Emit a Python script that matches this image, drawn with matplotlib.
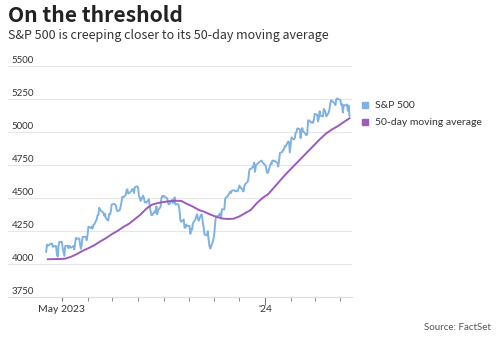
import pandas as pd
import matplotlib.pyplot as plt
from matplotlib.lines import Line2D

plt.rcParams['font.family'] = ['Lato', 'DejaVu Sans']

# S&P 500 daily closes, 12 Apr 2023 - 12 Apr 2024
sp500 = [
    # Apr 2023
    4092, 4146, 4138, 4151, 4154, 4155, 4130, 4133, 4137, 4072, 4056, 4136, 4169,
    # May
    4167, 4119, 4091, 4061, 4136, 4138, 4119, 4138, 4131, 4124, 4136, 4110,
    4159, 4198, 4192, 4193, 4146, 4115, 4151, 4205, 4206, 4180,
    # Jun
    4221, 4282, 4273, 4283, 4268, 4294, 4299, 4338, 4369, 4373, 4426, 4410,
    4389, 4366, 4381, 4348, 4328, 4378, 4377, 4396, 4450,
    # Jul
    4456, 4446, 4412, 4399, 4410, 4439, 4472, 4510, 4505, 4522, 4555, 4566,
    4535, 4536, 4554, 4567, 4566, 4538, 4582, 4589,
    # Aug
    4577, 4513, 4502, 4478, 4518, 4499, 4468, 4469, 4464, 4490, 4437, 4404,
    4370, 4370, 4400, 4388, 4436, 4376, 4406, 4433, 4497, 4515, 4508,
    # Sep
    4516, 4497, 4465, 4451, 4457, 4487, 4462, 4468, 4505, 4450, 4454, 4444,
    4402, 4330, 4320, 4337, 4274, 4275, 4300, 4288,
    # Oct
    4288, 4229, 4263, 4258, 4308, 4336, 4358, 4377, 4349, 4328, 4374, 4373,
    4315, 4278, 4224, 4217, 4248, 4186, 4137, 4117, 4167, 4194,
    # Nov
    4238, 4318, 4358, 4366, 4378, 4383, 4347, 4415, 4412, 4496, 4502, 4509,
    4514, 4547, 4538, 4556, 4559, 4550, 4555, 4551, 4568,
    # Dec
    4595, 4569, 4567, 4549, 4586, 4604, 4622, 4644, 4707, 4720, 4719, 4740,
    4768, 4698, 4746, 4755, 4775, 4781, 4783, 4770,
    # Jan 2024
    4743, 4705, 4689, 4697, 4764, 4757, 4783, 4780, 4784, 4766, 4739, 4780,
    4840, 4850, 4865, 4869, 4894, 4891, 4928, 4925, 4846,
    # Feb
    4906, 4959, 4943, 4954, 4995, 4998, 5027, 5022, 4953, 5001, 5030, 5006,
    4976, 4982, 5087, 5089, 5070, 5078, 5069, 5096,
    # Mar
    5137, 5131, 5079, 5105, 5157, 5124, 5117, 5175, 5165, 5150, 5117, 5149,
    5179, 5225, 5241, 5234, 5218, 5204, 5248, 5254,
    # Apr
    5243, 5205, 5211, 5147, 5204, 5202, 5209, 5161, 5200, 5123,
]

market_holidays = ['2023-05-29', '2023-06-19', '2023-07-04', '2023-09-04',
                   '2023-11-23', '2023-12-25', '2024-01-01', '2024-01-15',
                   '2024-02-19', '2024-03-29']

# 50-day moving average, weekly (Fridays)
ma_dates = pd.date_range('2023-04-14', '2024-04-12', freq='W-FRI')
ma50 = [4036, 4037, 4038, 4040, 4055, 4075, 4100, 4120, 4142, 4170, 4195,
        4225, 4250, 4280, 4305, 4340, 4375, 4420, 4450, 4462, 4470, 4476,
        4479, 4478, 4455, 4435, 4410, 4395, 4375, 4358, 4345, 4341, 4343,
        4360, 4385, 4410, 4460, 4500, 4530, 4580, 4630, 4680, 4725,
        4770, 4815, 4860, 4905, 4950, 4990, 5020, 5045, 5075, 5104]

y_ticks = [3750, 4000, 4250, 4500, 4750, 5000, 5250, 5500]

sp_dates = pd.bdate_range('2023-04-12', '2024-04-12', freq='C',
                          holidays=market_holidays)

blue = '#7fb2e0'
purple = '#9d5abd'

fig = plt.figure(figsize=(5, 3.37), dpi=100)
ax = fig.add_axes([8 / 500, 1 - 297 / 337, 344 / 500, 231 / 337])

ax.plot(sp_dates, sp500, color=blue, lw=1.4, zorder=3)
ax.plot(ma_dates, ma50, color=purple, lw=1.4, zorder=3)

ax.set_ylim(3750, 5500)
ax.set_xlim(pd.Timestamp('2023-02-25'), pd.Timestamp('2024-04-15'))

ax.set_yticks(y_ticks)
ax.set_yticklabels([])
ax.tick_params(axis='y', length=0)
ax.grid(axis='y', color='#e6e6e6', lw=0.8)
ax.set_axisbelow(True)
for v in y_ticks:
    ax.annotate(str(v), xy=(0.01, v), xycoords=ax.get_yaxis_transform(),
                xytext=(0, 2), textcoords='offset points',
                fontsize=7, color='#333333', va='baseline', ha='left')

for s in ['top', 'right', 'left']:
    ax.spines[s].set_visible(False)
ax.spines['bottom'].set_color('#dddddd')
ax.spines['bottom'].set_linewidth(0.8)

months = pd.date_range('2023-05-01', '2024-04-01', freq='MS')
ax.set_xticks(months, minor=True)
ax.set_xticks([pd.Timestamp('2023-05-01'), pd.Timestamp('2024-01-01')])
ax.set_xticklabels(['May 2023', "'24"])
ax.tick_params(axis='x', which='both', length=3, color='#777777',
               labelsize=7.5, labelcolor='#333333', pad=3)
ax.xaxis.get_major_ticks()[1].tick1line.set_markersize(5.5)

fig.text(8 / 500, 1 - 22 / 337, 'On the threshold', fontsize=15.2,
         fontweight='bold', color='#222222', va='baseline',
         family=['Noto Sans CJK KR', 'DejaVu Sans'])
fig.text(8 / 500, 1 - 39 / 337,
         'S&P 500 is creeping closer to its 50-day moving average',
         fontsize=9, color='#333333', va='baseline',
         family=['Noto Sans CJK KR', 'DejaVu Sans'])

handles = [Line2D([], [], marker='s', ls='', color=blue, markersize=5),
           Line2D([], [], marker='s', ls='', color=purple, markersize=5)]
fig.legend(handles, ['S&P 500', '50-day moving average'], loc='upper left',
           bbox_to_anchor=(361 / 500, 1 - 101 / 337), frameon=False,
           fontsize=7.5, handlelength=0.8, handletextpad=0.5,
           labelspacing=0.74, borderpad=0, borderaxespad=0,
           labelcolor='#333333')

fig.text(491 / 500, 1 - 330 / 337, 'Source: FactSet', fontsize=7,
         color='#555555', ha='right', va='baseline')

fig.savefig('out.png', dpi=100)
